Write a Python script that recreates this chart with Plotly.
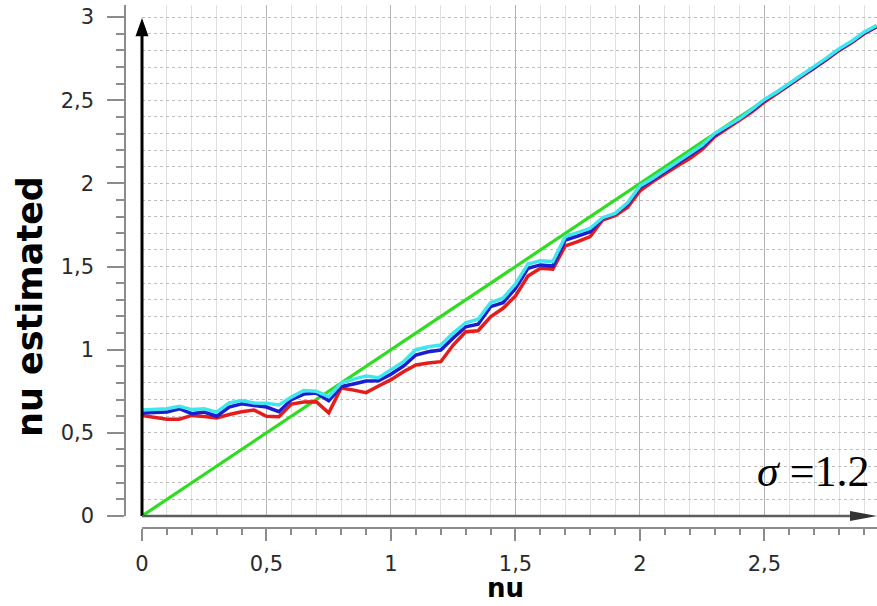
import plotly.graph_objects as go

# True parameter values (x) and the estimates for three runs
nu = [0.00, 0.05, 0.10, 0.15, 0.20, 0.25, 0.30, 0.35, 0.40, 0.45,
      0.50, 0.55, 0.60, 0.65, 0.70, 0.75, 0.80, 0.85, 0.90, 0.95,
      1.00, 1.05, 1.10, 1.15, 1.20, 1.25, 1.30, 1.35, 1.40, 1.45,
      1.50, 1.55, 1.60, 1.65, 1.70, 1.75, 1.80, 1.85, 1.90, 1.95,
      2.00, 2.05, 2.10, 2.15, 2.20, 2.25, 2.30, 2.35, 2.40, 2.45,
      2.50, 2.55, 2.60, 2.65, 2.70, 2.75, 2.80, 2.85, 2.90, 2.95]

est_red = [0.605, 0.592, 0.582, 0.582, 0.605, 0.598, 0.590, 0.610, 0.627, 0.637,
           0.600, 0.597, 0.673, 0.685, 0.687, 0.620, 0.770, 0.757, 0.742, 0.782,
           0.820, 0.868, 0.908, 0.920, 0.928, 1.028, 1.108, 1.114, 1.198, 1.249,
           1.323, 1.443, 1.490, 1.485, 1.624, 1.650, 1.680, 1.780, 1.806, 1.856,
           1.955, 2.010, 2.060, 2.105, 2.150, 2.205, 2.280, 2.330, 2.380, 2.430,
           2.490, 2.540, 2.590, 2.640, 2.690, 2.745, 2.800, 2.845, 2.900, 2.940]

est_blue = [0.620, 0.620, 0.625, 0.645, 0.615, 0.625, 0.600, 0.655, 0.675, 0.665,
            0.655, 0.627, 0.700, 0.733, 0.740, 0.693, 0.778, 0.794, 0.812, 0.814,
            0.852, 0.902, 0.968, 0.988, 0.998, 1.070, 1.138, 1.153, 1.259, 1.283,
            1.369, 1.490, 1.510, 1.503, 1.660, 1.684, 1.710, 1.790, 1.816, 1.874,
            1.975, 2.020, 2.070, 2.120, 2.168, 2.220, 2.290, 2.340, 2.385, 2.440,
            2.500, 2.545, 2.595, 2.650, 2.695, 2.750, 2.805, 2.850, 2.905, 2.945]

est_cyan = [0.637, 0.640, 0.645, 0.660, 0.640, 0.645, 0.625, 0.680, 0.695, 0.680,
            0.678, 0.668, 0.715, 0.755, 0.750, 0.718, 0.800, 0.823, 0.842, 0.832,
            0.880, 0.928, 1.000, 1.018, 1.028, 1.100, 1.162, 1.183, 1.283, 1.310,
            1.395, 1.515, 1.535, 1.530, 1.680, 1.704, 1.730, 1.794, 1.820, 1.884,
            1.985, 2.030, 2.080, 2.130, 2.178, 2.230, 2.300, 2.345, 2.390, 2.445,
            2.505, 2.550, 2.600, 2.655, 2.700, 2.755, 2.810, 2.855, 2.910, 2.950]

# identity reference line (estimate == true value)
ideal_x = [0.0, 2.95]
ideal_y = [0.0, 2.95]

tick_vals = [0, 0.5, 1, 1.5, 2, 2.5]
tick_text = ["0", "0,5", "1", "1,5", "2", "2,5"]
ytick_vals = [0, 0.5, 1, 1.5, 2, 2.5, 3]
ytick_text = ["0", "0,5", "1", "1,5", "2", "2,5", "3"]

W, H = 877, 606
ML, MR, MT, MB = 125, 0, 5, 78
XMAX = 2.952
YMAX = 3.073
PW = W - ML - MR
PH = H - MT - MB
X0F = 17 / PW          # offset of the data area from the free y axis
Y0F = 12 / PH          # offset of the data area from the free x axis


def xp(v):
    return X0F + (1 - X0F) * v / XMAX


def yp(v):
    return Y0F + (1 - Y0F) * v / YMAX


fig = go.Figure()

fig.add_trace(go.Scatter(x=ideal_x, y=ideal_y, mode="lines",
                         line=dict(color="#2fdc22", width=3.2), showlegend=False))
fig.add_trace(go.Scatter(x=nu, y=est_red, mode="lines",
                         line=dict(color="#e61c1c", width=3.5), showlegend=False))
fig.add_trace(go.Scatter(x=nu, y=est_blue, mode="lines",
                         line=dict(color="#1c1cd0", width=3.5), showlegend=False))
fig.add_trace(go.Scatter(x=nu, y=est_cyan, mode="lines",
                         line=dict(color="#40e6ee", width=3.5), showlegend=False))

tickfont = dict(family="DejaVu Sans", size=21, color="#2a2a2a")
axis_grey = "#8c8c8c"

fig.update_layout(
    width=W, height=H,
    margin=dict(l=ML, r=MR, t=MT, b=MB),
    paper_bgcolor="white", plot_bgcolor="white",
    xaxis=dict(
        domain=[X0F, 1], range=[0, XMAX], anchor="free", position=0,
        showline=True, linecolor=axis_grey, linewidth=1.5,
        ticks="outside", ticklen=12, tickwidth=1.5, tickcolor=axis_grey,
        tickvals=tick_vals, ticktext=tick_text, tickfont=tickfont,
        ticklabelstandoff=5,
        showgrid=True, gridcolor="#b4b4b4", gridwidth=1,
        zeroline=False,
        minor=dict(tickmode="linear", tick0=0, dtick=0.1, ticks="outside",
                   ticklen=6, tickwidth=1.5, tickcolor=axis_grey,
                   showgrid=True, gridcolor="#e0e0e0", gridwidth=1),
    ),
    yaxis=dict(
        domain=[Y0F, 1], range=[0, YMAX], anchor="free", position=0,
        showline=True, linecolor=axis_grey, linewidth=1.5,
        ticks="outside", ticklen=17, tickwidth=1.5, tickcolor=axis_grey,
        tickvals=ytick_vals, ticktext=ytick_text, tickfont=tickfont,
        ticklabelstandoff=9,
        showgrid=True, gridcolor="#bdbdbd", gridwidth=1, griddash="dot",
        zeroline=False,
        minor=dict(tickmode="linear", tick0=0, dtick=0.1, ticks="outside",
                   ticklen=8, tickwidth=1.5, tickcolor=axis_grey,
                   showgrid=True, gridcolor="#bdbdbd", gridwidth=1,
                   griddash="dot"),
    ),
)

# arrows through the origin: vertical (black) and horizontal (grey)
px_x = 1 / PW
px_y = 1 / PH
fig.add_shape(type="line", xref="paper", yref="paper",
              x0=xp(0), y0=yp(0), x1=xp(0), y1=yp(2.9),
              line=dict(color="black", width=3), layer="above")
fig.add_shape(type="path", xref="paper", yref="paper",
              path=(f"M {xp(0) - 6.5 * px_x},{yp(2.885)} "
                    f"L {xp(0) + 6.5 * px_x},{yp(2.885)} "
                    f"L {xp(0)},{yp(2.995)} Z"),
              fillcolor="black", line=dict(width=0), layer="above")
fig.add_shape(type="line", xref="paper", yref="paper",
              x0=xp(0), y0=yp(0), x1=xp(XMAX) - 20 * px_x, y1=yp(0),
              line=dict(color="#5e5e5e", width=2.5), layer="above")
fig.add_shape(type="path", xref="paper", yref="paper",
              path=(f"M {xp(XMAX) - 27 * px_x},{yp(0) - 5 * px_y} "
                    f"L {xp(XMAX) - 27 * px_x},{yp(0) + 5 * px_y} "
                    f"L {xp(XMAX)},{yp(0)} Z"),
              fillcolor="#333333", line=dict(width=0), layer="above")

# axis titles
fig.add_annotation(text="<b>nu</b>", xref="paper", yref="paper",
                   x=(505 - ML) / PW, y=-(605 - (H - MB)) / PH,
                   xanchor="center", yanchor="bottom", showarrow=False,
                   font=dict(family="DejaVu Sans", size=26, color="black"))
fig.add_annotation(text="<b>nu estimated</b>", xref="paper", yref="paper",
                   x=-(ML - 30) / PW, y=((H - MB) - 307) / PH,
                   xanchor="center", yanchor="middle", textangle=-90,
                   showarrow=False,
                   font=dict(family="DejaVu Sans", size=35, color="black"))

# noise level label
fig.add_annotation(text="<i>σ</i> =1.2", xref="x", yref="y",
                   x=2.93, y=0.27, xanchor="right", yanchor="middle",
                   showarrow=False,
                   font=dict(family="Liberation Serif", size=44, color="black"))

fig.write_html("out.html")
